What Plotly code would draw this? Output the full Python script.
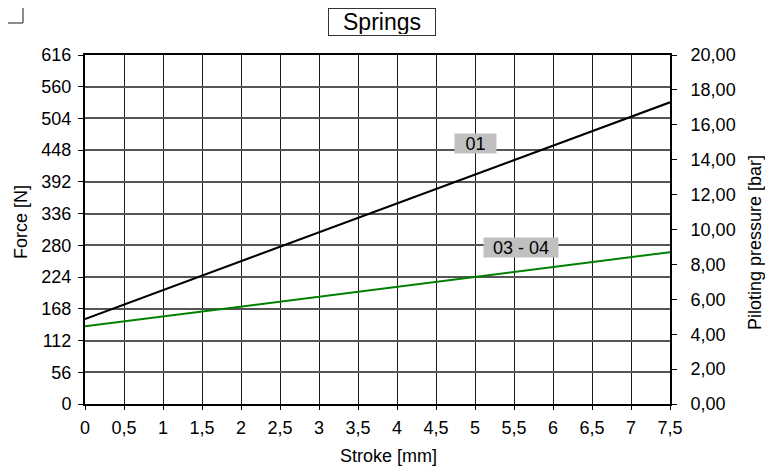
import plotly.graph_objects as go

# ---- data ----
stroke = [0, 7.5]
force_01 = [150, 532.5]
force_0304 = [137, 268]
x_ticks = [0, 0.5, 1, 1.5, 2, 2.5, 3, 3.5, 4, 4.5, 5, 5.5, 6, 6.5, 7, 7.5]
x_ticktext = ["0", "0,5", "1", "1,5", "2", "2,5", "3", "3,5", "4", "4,5", "5", "5,5", "6", "6,5", "7", "7,5"]
y_ticks = [0, 56, 112, 168, 224, 280, 336, 392, 448, 504, 560, 616]
y2_ticks = [0, 2, 4, 6, 8, 10, 12, 14, 16, 18, 20]
y2_ticktext = ["0,00", "2,00", "4,00", "6,00", "8,00", "10,00", "12,00", "14,00", "16,00", "18,00", "20,00"]

OFF = 8  # page body margin
W, H = 765, 462
L, T = 85 - OFF, 55 - OFF
PW, PH = 585, 349
R = W - L - PW
B = H - T - PH

def px(x):  # reference-screen pixel -> paper x
    return (x - OFF - L) / PW

def py(y):  # reference-screen pixel -> paper y
    return (H - B - (y - OFF)) / PH

FONT = "Liberation Sans, Arial, sans-serif"
fs = 18

fig = go.Figure()
fig.add_trace(go.Scatter(x=stroke, y=force_01, mode="lines",
                         line=dict(color="#000000", width=2), showlegend=False))
fig.add_trace(go.Scatter(x=stroke, y=force_0304, mode="lines",
                         line=dict(color="#008000", width=2), showlegend=False))
fig.add_trace(go.Scatter(x=[0], y=[0], yaxis="y2", mode="markers",
                         marker=dict(opacity=0), showlegend=False, hoverinfo="skip"))

fig.update_layout(
    width=W, height=H,
    margin=dict(l=L, r=R, t=T, b=B),
    paper_bgcolor="white", plot_bgcolor="white",
    font=dict(family=FONT, size=fs, color="black"),
    xaxis=dict(range=[0, 7.5], tickvals=x_ticks, ticktext=x_ticktext,
               showgrid=True, gridcolor="#1a1a1a", gridwidth=1.3,
               showline=True, linecolor="black", linewidth=2, mirror=True,
               ticks="outside", ticklen=4, tickcolor="black",
               ticklabelstandoff=2,
               zeroline=False, tickfont=dict(size=fs)),
    yaxis=dict(range=[0, 616], tickvals=y_ticks,
               showgrid=True, gridcolor="#555555", gridwidth=2,
               showline=True, linecolor="black", linewidth=2, mirror=True,
               ticks="outside", ticklen=5, tickcolor="black",
               ticklabelstandoff=3,
               zeroline=False, tickfont=dict(size=fs)),
    yaxis2=dict(range=[0, 20], tickvals=y2_ticks, ticktext=y2_ticktext,
                overlaying="y", side="right", showgrid=False,
                showline=True, linecolor="black", linewidth=2,
                ticks="outside", ticklen=5, tickcolor="black",
                ticklabelstandoff=10,
                zeroline=False, tickfont=dict(size=fs)),
)

annotations = [
    dict(text="Springs", x=px(382), y=py(22), xref="paper", yref="paper",
         showarrow=False, font=dict(size=23), bordercolor="#333333", borderwidth=1,
         bgcolor="white", width=104, height=24, borderpad=1,
         xanchor="center", yanchor="middle"),
    dict(text="Force [N]", x=px(21), y=py(222), xref="paper", yref="paper",
         showarrow=False, textangle=-90, font=dict(size=fs),
         xanchor="center", yanchor="middle"),
    dict(text="Piloting pressure [bar]", x=px(755), y=py(243), xref="paper", yref="paper",
         showarrow=False, textangle=-90, font=dict(size=fs),
         xanchor="center", yanchor="middle"),
    dict(text="Stroke [mm]", x=px(388), y=py(456), xref="paper", yref="paper",
         showarrow=False, font=dict(size=fs),
         xanchor="center", yanchor="middle"),
    dict(text="01", x=5.0, y=460, xref="x", yref="y",
         showarrow=False, font=dict(size=fs), bgcolor="#c0c0c0",
         width=39, height=17, borderpad=1, align="center", xshift=0,
         xanchor="center", yanchor="middle"),
    dict(text="03 - 04", x=5.59, y=277, xref="x", yref="y",
         showarrow=False, font=dict(size=fs), bgcolor="#c0c0c0",
         width=72, height=17, borderpad=1,
         xanchor="center", yanchor="middle"),
]
fig.update_layout(annotations=annotations)

fig.update_layout(shapes=[
    dict(type="line", xref="paper", yref="paper",
         x0=px(8), x1=px(23), y0=py(23), y1=py(23),
         line=dict(color="#666666", width=1.5)),
    dict(type="line", xref="paper", yref="paper",
         x0=px(23), x1=px(23), y0=py(23), y1=py(8),
         line=dict(color="#666666", width=1.5)),
])

fig.write_html("out.html")
